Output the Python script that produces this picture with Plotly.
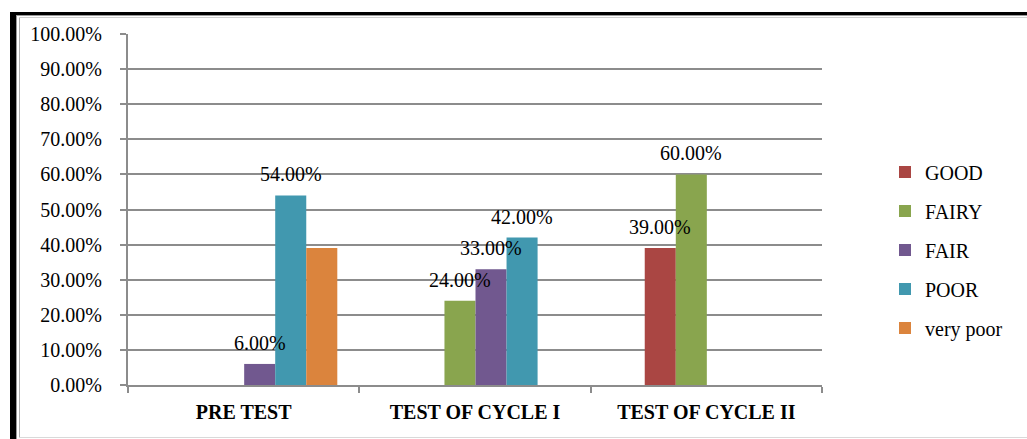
import plotly.graph_objects as go

# ---- data ----
categories = ["PRE TEST", "TEST OF CYCLE I", "TEST OF CYCLE II"]
series_names = ["GOOD", "FAIRY", "FAIR", "POOR", "very poor"]
good = [None, None, 0.39]
fairy = [None, 0.24, 0.60]
fair = [0.06, 0.33, None]
poor = [0.54, 0.42, None]
very_poor = [0.39, None, None]
show_labels = [True, True, True, True, False]
y_ticks = [0, 0.1, 0.2, 0.3, 0.4, 0.5, 0.6, 0.7, 0.8, 0.9, 1.0]

colors = ["#AA4643", "#89A54E", "#71588F", "#4198AF", "#DB843D"]
series_values = [good, fairy, fair, poor, very_poor]

W, H = 1027, 439
FONT = "Liberation Serif, Times New Roman, serif"
GRID = "#8c8c8c"

slot_w = 31 / 231.0
first_offset = -61.5 / 231.0

fig = go.Figure()
annotations = []
for i, (name, vals, col) in enumerate(zip(series_names, series_values, colors)):
    off = first_offset + i * slot_w
    fig.add_trace(go.Bar(
        name=name, x=categories, y=vals, marker=dict(color=col, line=dict(width=0)),
        offset=off, width=slot_w, legendgroup=name,
    ))
    if show_labels[i]:
        for ci, v in enumerate(vals):
            if v is None:
                continue
            annotations.append(dict(
                x=ci + off + slot_w / 2, y=v, xref="x", yref="y",
                text=f"{v*100:.2f}%", showarrow=False, yshift=21,
                xanchor="center", yanchor="middle",
                font=dict(family=FONT, size=20, color="black"),
            ))

def px(x):
    return x / W

def py(y):
    return 1 - y / H

shapes = [
    dict(type="rect", xref="paper", yref="paper", x0=px(10), x1=px(16), y0=0, y1=py(12),
         fillcolor="black", line=dict(width=0), layer="above"),
    dict(type="rect", xref="paper", yref="paper", x0=px(10), x1=px(1030), y0=py(15), y1=py(12),
         fillcolor="black", line=dict(width=0), layer="above"),
    dict(type="line", xref="paper", yref="paper", x0=px(16.5), x1=px(16.5), y0=0, y1=py(15),
         line=dict(color="#9a9a9a", width=1)),
    dict(type="line", xref="paper", yref="paper", x0=px(16), x1=px(1030), y0=py(15.5), y1=py(15.5),
         line=dict(color="#9a9a9a", width=1)),
    dict(type="line", xref="paper", yref="paper", x0=px(19.5), x1=px(19.5), y0=py(437.5), y1=py(17.5),
         line=dict(color="#b0b0b0", width=1)),
    dict(type="line", xref="paper", yref="paper", x0=px(19.5), x1=px(1030), y0=py(17.5), y1=py(17.5),
         line=dict(color="#d0d0d0", width=1)),
    dict(type="line", xref="paper", yref="paper", x0=px(19.5), x1=px(1030), y0=py(437.5), y1=py(437.5),
         line=dict(color="#d9d9d9", width=1)),
]

fig.update_layout(
    template="none",
    width=W, height=H,
    margin=dict(l=0, r=0, t=0, b=0, pad=0, autoexpand=False),
    paper_bgcolor="white", plot_bgcolor="white",
    barmode="overlay",
    font=dict(family=FONT, size=20, color="black"),
    xaxis=dict(
        domain=[px(128), px(822)], type="category", categoryorder="array", categoryarray=categories,
        showline=True, linecolor=GRID, linewidth=2, automargin=False,
        ticks="outside", ticklen=6, tickwidth=2, tickcolor=GRID, tickson="boundaries",
        ticklabelstandoff=8,
        tickfont=dict(family=FONT, size=20, color="black", weight="bold"),
        showgrid=False, zeroline=False, range=[-0.5, 2.5],
    ),
    yaxis=dict(
        domain=[py(385), py(34)], range=[0, 1], tickvals=y_ticks, tickformat=".2%",
        showline=True, linecolor=GRID, linewidth=2, automargin=False,
        ticks="outside", ticklen=6, tickwidth=2, tickcolor=GRID,
        ticklabelstandoff=14,
        showgrid=True, gridcolor=GRID, gridwidth=2, zeroline=False,
        tickfont=dict(family=FONT, size=20, color="black"),
    ),
    legend=dict(
        x=px(885), y=py(250), xanchor="left", yanchor="middle",
        font=dict(family=FONT, size=20, color="black"),
        tracegroupgap=10, bgcolor="rgba(0,0,0,0)",
    ),
    annotations=annotations,
    shapes=shapes,
)

fig.write_html("out.html", config={"displayModeBar": False},
               post_script="document.body.style.margin='0';document.body.style.padding='0';")
